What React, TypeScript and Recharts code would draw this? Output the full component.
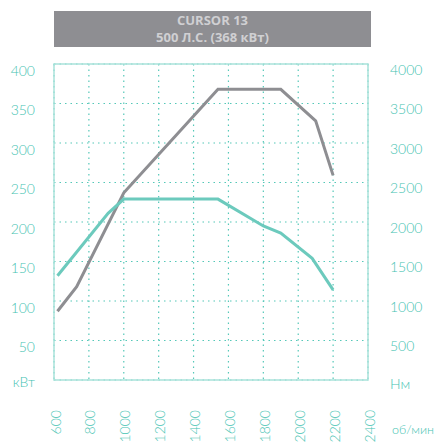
import { LineChart, Line, XAxis, YAxis, CartesianGrid, ReferenceArea } from 'recharts';

// power curve, кВт (left axis)
const powerRpm = [620, 910, 1000, 1540, 1800, 1900, 2080, 2200];
const powerKw = [132, 211, 229, 229, 195, 186, 154, 114];

// torque curve, Нм (right axis)
const torqueRpm = [620, 730, 1000, 1540, 1900, 2100, 2200];
const torqueNm = [870, 1180, 2370, 3680, 3680, 3280, 2590];

const rpmTicks = [600, 800, 1000, 1200, 1400, 1600, 1800, 2000, 2200, 2400];
const kwTicks = [0, 50, 100, 150, 200, 250, 300, 350, 400];
const nmTicks = [0, 500, 1000, 1500, 2000, 2500, 3000, 3500, 4000];

const title = 'CURSOR 13';
const subtitle = '500 Л.С. (368 кВт)';

const TEAL = '#6ccabd';
const LABEL = '#46c3b2';
const GRAY = '#8e8e92';
const BORDER = '#a9e2da';
const FONT = 'Lato, "Open Sans", sans-serif';

const powerData = powerRpm.map((rpm, i) => ({ rpm, kw: powerKw[i] }));
const torqueData = torqueRpm.map((rpm, i) => ({ rpm, nm: torqueNm[i] }));

function LeftTick({ x, y, payload }: any) {
  const zero = payload.value === 0;
  return (
    <text x={x - 19} y={y + (zero ? 1 : 6)} textAnchor="end" dominantBaseline="central"
      fill={LABEL} fontSize={14} fontWeight={300} fontFamily={FONT}>
      {zero ? 'кВт' : payload.value}
    </text>
  );
}

function RightTick({ x, y, payload }: any) {
  const zero = payload.value === 0;
  return (
    <text x={x + 22} y={y + (zero ? 3 : 5)} textAnchor="start" dominantBaseline="central"
      fill={LABEL} fontSize={14} fontWeight={300} fontFamily={FONT}>
      {zero ? 'Нм' : payload.value}
    </text>
  );
}

function BottomTick({ x, y, payload }: any) {
  const tx = x + 1;
  const ty = y + 30;
  return (
    <text x={tx} y={ty} textAnchor="end" dominantBaseline="central"
      transform={`rotate(-90 ${tx} ${ty})`}
      fill={LABEL} fontSize={14} fontWeight={300} fontFamily={FONT}>
      {payload.value}
    </text>
  );
}

export default function App() {
  return (
    <div style={{ position: 'absolute', left: 0, top: 0, width: 435, height: 442, background: '#fff' }}>
      <div style={{
        position: 'absolute', left: 54, top: 11, width: 317, height: 36, background: GRAY,
        color: '#d0d0d3', fontFamily: '"Open Sans", sans-serif', fontWeight: 700, fontSize: 13,
        lineHeight: '17px', textAlign: 'center', paddingTop: 1, boxSizing: 'border-box',
      }}>
        <div>{title}</div>
        <div>{subtitle}</div>
      </div>
      <LineChart width={435} height={442} margin={{ top: 64, right: 0, bottom: 0, left: 0 }}>
        <CartesianGrid yAxisId="kw" stroke="#55c8b8" strokeDasharray="1.5 4" strokeWidth={1.2} />
        <XAxis dataKey="rpm" type="number" domain={[600, 2400]} ticks={rpmTicks}
          allowDuplicatedCategory={false} height={62} axisLine={false} tickLine={false}
          tickSize={0} tickMargin={0} tick={<BottomTick />} interval={0} />
        <YAxis yAxisId="kw" orientation="left" domain={[0, 400]} ticks={kwTicks} width={54}
          axisLine={false} tickLine={false} tickSize={0} tickMargin={0} tick={<LeftTick />} interval={0} />
        <YAxis yAxisId="nm" orientation="right" domain={[0, 4000]} ticks={nmTicks} width={67}
          axisLine={false} tickLine={false} tickSize={0} tickMargin={0} tick={<RightTick />} interval={0} />
        <ReferenceArea yAxisId="kw" x1={600} x2={2400} y1={0} y2={400}
          fill="none" stroke={BORDER} strokeWidth={1.5} ifOverflow="visible" />
        <Line yAxisId="nm" data={torqueData} dataKey="nm" stroke={GRAY} strokeWidth={3}
          dot={false} isAnimationActive={false} />
        <Line yAxisId="kw" data={powerData} dataKey="kw" stroke={TEAL} strokeWidth={3}
          dot={false} isAnimationActive={false} />
      </LineChart>
      <div style={{
        position: 'absolute', right: 1, top: 422, color: LABEL, fontFamily: FONT,
        fontWeight: 300, fontSize: 12.5, whiteSpace: 'nowrap',
      }}>
        об/мин
      </div>
    </div>
  );
}
